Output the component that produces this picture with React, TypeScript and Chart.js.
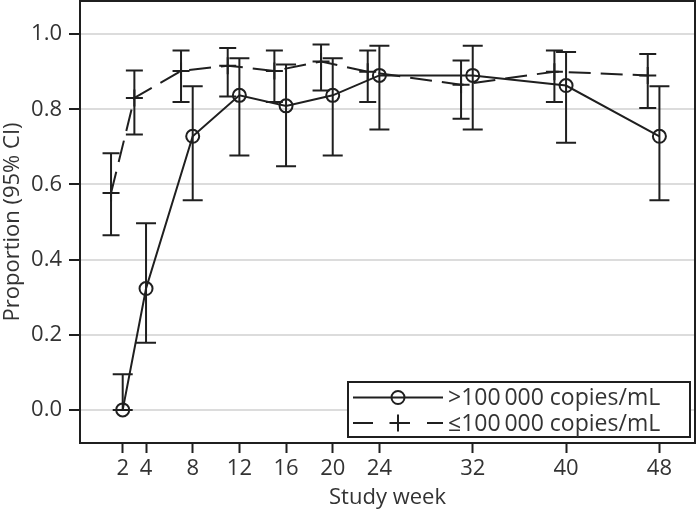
import React, { useEffect, useRef } from "react";
import { Chart, registerables } from "chart.js";

Chart.register(...registerables);

// ---- data ----
const weeks = [2, 4, 8, 12, 16, 20, 24, 32, 40, 48];
const xTickValues = [2, 4, 8, 12, 16, 20, 24, 32, 40, 48];
const yTickValues = [0.0, 0.2, 0.4, 0.6, 0.8, 1.0];

const highLabel = ">100\u2009000 copies/mL";
const highValues = [0.0, 0.323, 0.728, 0.837, 0.809, 0.837, 0.89, 0.89, 0.863, 0.728];
const highLower = [0.0, 0.179, 0.558, 0.677, 0.648, 0.677, 0.746, 0.746, 0.711, 0.558];
const highUpper = [0.095, 0.497, 0.861, 0.936, 0.919, 0.936, 0.969, 0.969, 0.952, 0.861];

const lowLabel = "\u2264100\u2009000 copies/mL";
const lowValues = [0.577, 0.83, 0.902, 0.916, 0.902, 0.927, 0.9, 0.865, 0.9, 0.89];
const lowLower = [0.465, 0.733, 0.819, 0.834, 0.819, 0.85, 0.819, 0.775, 0.819, 0.803];
const lowUpper = [0.683, 0.903, 0.956, 0.963, 0.956, 0.972, 0.956, 0.93, 0.956, 0.947];

const DODGE = -1; // horizontal offset (weeks) of the second group
const INK = "#1f1f1f";
const TEXT = "#333333";
const FONT = "'Open Sans', 'Noto Sans', sans-serif";
const FS = 22;

const errorBarPlugin = {
  id: "errorBars",
  afterDatasetsDraw(chart: any) {
    const { ctx } = chart;
    const xs = chart.scales.x;
    const ys = chart.scales.y;
    chart.data.datasets.forEach((ds: any) => {
      ctx.save();
      ctx.strokeStyle = INK;
      ctx.lineWidth = 2;
      ctx.setLineDash([]);
      ds.data.forEach((p: any, i: number) => {
        const px = xs.getPixelForValue(p.x);
        const lo = ys.getPixelForValue(ds.lower[i]);
        const hi = ys.getPixelForValue(ds.upper[i]);
        const hw = ds.capHalf;
        ctx.beginPath();
        ctx.moveTo(px, lo);
        ctx.lineTo(px, hi);
        ctx.moveTo(px - hw, lo);
        ctx.lineTo(px + hw, lo);
        ctx.moveTo(px - hw, hi);
        ctx.lineTo(px + hw, hi);
        ctx.stroke();
      });
      ctx.restore();
    });
  },
};

const framePlugin = {
  id: "frameAndLegend",
  afterDraw(chart: any) {
    const { ctx, chartArea: a } = chart;
    ctx.save();
    ctx.strokeStyle = INK;
    ctx.lineWidth = 2;
    ctx.setLineDash([]);
    ctx.strokeRect(a.left, a.top, a.right - a.left, a.bottom - a.top);

    // legend box inside the plot, bottom-right
    const bw = 342;
    const bh = 55;
    const bx = a.right - 5 - bw;
    const by = a.bottom - 6 - bh;
    ctx.fillStyle = "#ffffff";
    ctx.fillRect(bx, by, bw, bh);
    ctx.strokeRect(bx, by, bw, bh);

    const ds = chart.data.datasets;
    const rowY = [by + 15.5, by + 41];
    const lx0 = bx + 5;
    const lx1 = bx + 95;
    const mx = bx + 50;

    // row 1: solid line + circle
    ctx.beginPath();
    ctx.moveTo(lx0, rowY[0]);
    ctx.lineTo(lx1, rowY[0]);
    ctx.stroke();
    ctx.beginPath();
    ctx.arc(mx, rowY[0], 6.5, 0, Math.PI * 2);
    ctx.stroke();

    // row 2: dashed line + cross
    ctx.setLineDash([20, 17]);
    ctx.beginPath();
    ctx.moveTo(lx0, rowY[1]);
    ctx.lineTo(lx1, rowY[1]);
    ctx.stroke();
    ctx.setLineDash([]);
    ctx.beginPath();
    ctx.moveTo(mx - 8.5, rowY[1]);
    ctx.lineTo(mx + 8.5, rowY[1]);
    ctx.moveTo(mx, rowY[1] - 8.5);
    ctx.lineTo(mx, rowY[1] + 8.5);
    ctx.stroke();

    ctx.fillStyle = TEXT;
    ctx.font = `23px ${FONT}`;
    ctx.textBaseline = "middle";
    ctx.textAlign = "left";
    ctx.fillText(ds[0].label, bx + 100, rowY[0] + 1);
    ctx.fillText(ds[1].label, bx + 100, rowY[1] + 1);
    ctx.restore();
  },
};

export default function App() {
  const ref = useRef<HTMLCanvasElement | null>(null);

  useEffect(() => {
    if (!ref.current) return;
    const chart = new Chart(ref.current, {
      type: "line",
      data: {
        datasets: [
          {
            label: highLabel,
            data: weeks.map((w, i) => ({ x: w, y: highValues[i] })),
            lower: highLower,
            upper: highUpper,
            capHalf: 10,
            borderColor: INK,
            borderWidth: 2,
            pointStyle: "circle",
            pointRadius: 6.5,
            pointBorderWidth: 2,
            pointBorderColor: INK,
            pointBackgroundColor: "rgba(0,0,0,0)",
            tension: 0,
            fill: false,
          } as any,
          {
            label: lowLabel,
            data: weeks.map((w, i) => ({ x: w + DODGE, y: lowValues[i] })),
            lower: lowLower,
            upper: lowUpper,
            capHalf: 8.5,
            borderColor: INK,
            borderWidth: 2,
            borderDash: [22, 10],
            pointStyle: "cross",
            pointRadius: 8.5,
            pointBorderWidth: 2,
            pointBorderColor: INK,
            pointBackgroundColor: INK,
            tension: 0,
            fill: false,
          } as any,
        ],
      },
      options: {
        responsive: false,
        animation: false,
        layout: { autoPadding: false, padding: { top: 1, right: 3, left: 0, bottom: 0 } },
        plugins: {
          legend: { display: false },
          tooltip: { enabled: false },
        },
        scales: {
          x: {
            type: "linear",
            min: -1.66,
            max: 51.05,
            afterBuildTicks: (s: any) => {
              s.ticks = xTickValues.map((v) => ({ value: v }));
            },
            afterFit: (s: any) => {
              s.height = 71;
              s.paddingLeft = 0;
              s.paddingRight = 0;
            },
            border: { display: false },
            grid: {
              drawOnChartArea: false,
              drawTicks: true,
              tickLength: 10,
              tickColor: INK,
              tickWidth: 2,
            },
            ticks: {
              color: TEXT,
              font: { family: FONT, size: FS },
              padding: 3,
              maxRotation: 0,
              autoSkip: false,
              callback: (v: any) => String(v),
            },
            title: {
              display: true,
              text: "Study week",
              color: TEXT,
              font: { family: FONT, size: FS },
              padding: { top: 0, bottom: 3 },
            },
          },
          y: {
            type: "linear",
            min: -0.088,
            max: 1.088,
            afterBuildTicks: (s: any) => {
              s.ticks = yTickValues.map((v) => ({ value: v }));
            },
            afterFit: (s: any) => {
              s.width = 80;
              s.paddingTop = 0;
              s.paddingBottom = 0;
            },
            border: { display: false },
            grid: {
              color: "#dcdcdc",
              lineWidth: 2,
              drawTicks: true,
              tickLength: 11,
              tickColor: INK,
              tickWidth: 2,
            },
            ticks: {
              color: TEXT,
              font: { family: FONT, size: FS },
              padding: 7,
              autoSkip: false,
              callback: (v: any) => Number(v).toFixed(1),
            },
            title: {
              display: true,
              text: "Proportion (95% CI)",
              color: TEXT,
              font: { family: FONT, size: FS },
              padding: { top: 0, bottom: 0 },
            },
          },
        },
      },
      plugins: [errorBarPlugin, framePlugin],
    });
    return () => chart.destroy();
  }, []);

  return (
    <div style={{ position: "fixed", left: 0, top: 0, width: 698, height: 514, background: "#fff" }}>
      <canvas ref={ref} width={698} height={514} style={{ display: "block" }} />
    </div>
  );
}
